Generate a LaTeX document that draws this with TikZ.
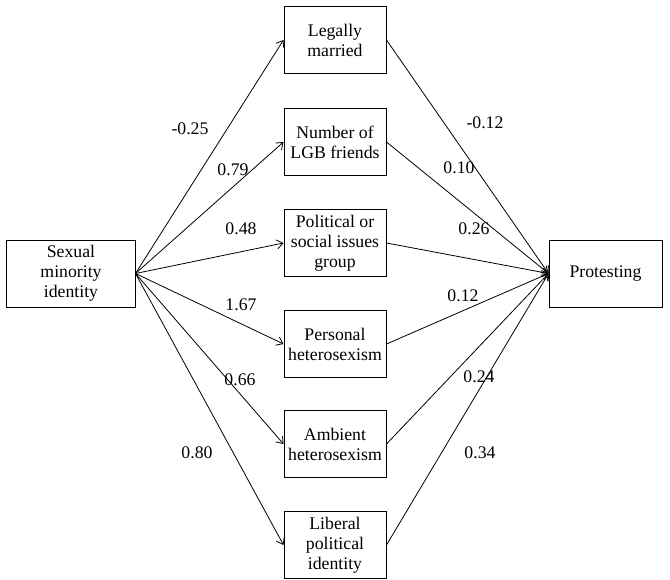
\documentclass[tikz,border=0pt]{standalone}
\usepackage{fontspec}
\setmainfont{Liberation Serif}
\usetikzlibrary{arrows.meta}
\begin{document}
\begin{tikzpicture}[x=1bp,y=-1bp,
  txt/.style={font=\fontsize{17.8}{20}\selectfont},
  box/.style={draw, line width=1bp, align=center, txt, inner sep=0pt, minimum height=67bp},
  mid/.style={box, minimum width=102bp},
  arr/.style={line width=0.8bp, -{Straight Barb[length=6bp,width=9bp]}},
  lab/.style={font=\fontsize{17.8}{20}\selectfont, inner sep=0pt}]
\useasboundingbox (0,0) rectangle (670,580);
\node[box, minimum width=128bp] (src) at (71,273.5) {Sexual\\minority\\identity};
\node[box, minimum width=113bp] (dst) at (605.5,273.5) {Protesting};
\node[mid] (m1) at (335,40) {Legally\\married};
\node[mid] (m2) at (335,142) {Number of\\LGB friends};
\node[mid] (m3) at (335,243) {Political or\\social issues\\group};
\node[mid] (m4) at (335,344) {Personal\\heterosexism};
\node[mid] (m5) at (335,444) {Ambient\\heterosexism};
\node[mid] (m6) at (335,545) {Liberal\\political\\identity};
\foreach \i in {1,...,6}{
  \draw[arr] (src.east) -- (m\i.west);
  \draw[arr] (m\i.east) -- (dst.west);
}
\node[lab] (a1) at (190,129) {-0.25};
\node[lab] (a2) at (233,170) {0.79};
\node[lab] (a3) at (241,229) {0.48};
\node[lab] (a4) at (241,305) {1.67};
\node[lab] (a5) at (240,380) {0.66};
\node[lab] (a6) at (197,453) {0.80};
\node[lab] (b1) at (485,123) {-0.12};
\node[lab] (b2) at (459,168) {0.10};
\node[lab] (b3) at (474,229) {0.26};
\node[lab] (b4) at (463,296) {0.12};
\node[lab] (b5) at (479,377) {0.24};
\node[lab] (b6) at (480,453) {0.34};
\end{tikzpicture}
\end{document}
